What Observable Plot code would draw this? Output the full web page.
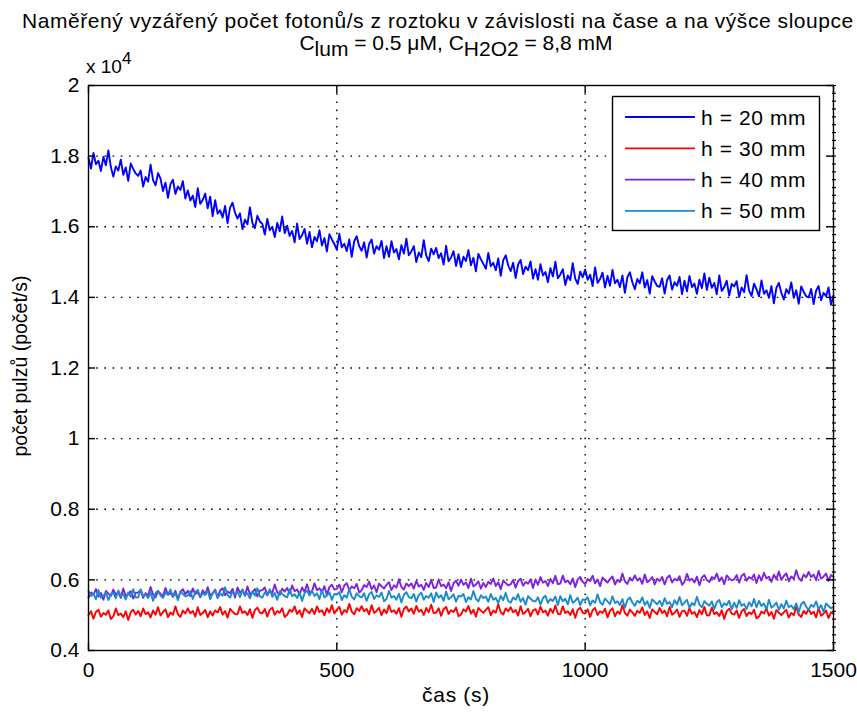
<!DOCTYPE html>
<html>
<head>
<meta charset="utf-8">
<script src="https://cdn.jsdelivr.net/npm/d3@7"></script>
<script src="https://cdn.jsdelivr.net/npm/@observablehq/plot@0.6"></script>
<style>
  body { margin: 0; background: #fff; }
  #chart svg { display: block; }
</style>
</head>
<body>
<div id="chart"></div>
<script>
// Photon count rate vs. time for four liquid column heights
const dt = 5; // sampling interval of the stored series, s
const seriesLabels = ["h = 20 mm", "h = 30 mm", "h = 40 mm", "h = 50 mm"];
const seriesColors = ["#0000ff", "#ff0000", "#8020e0", "#1a8bd0"];
const xTicks = [0, 500, 1000, 1500];
const yTicks = [4000, 6000, 8000, 10000, 12000, 14000, 16000, 18000, 20000];

// counts per second, one value every dt seconds from t = 0 to 1500 s
const h20 = [
  17950,17650,18090,17770,17870,17580,17980,17740,18160,17690,
  17420,17710,17590,17900,17470,17680,17300,17790,17640,17510,
  17440,17590,17140,17410,17280,17760,17320,17170,17520,17360,
  17010,17250,16820,17200,17330,16930,17140,17040,17290,16800,
  17030,16740,16880,16560,17090,16650,16760,16940,16520,16850,
  16300,16750,16370,16470,16260,16590,16100,16540,16680,16400,
  16230,16380,15930,16200,16070,16550,16110,15960,16310,16150,
  16080,15780,16220,15900,16000,15710,16110,15870,16290,15820,
  16030,15740,15880,15560,16090,15650,15760,15940,15520,15850,
  15420,15710,15590,15900,15470,15680,15300,15790,15640,15510,
  15350,15800,15420,15520,15310,15640,15150,15590,15730,15450,
  15320,15560,15130,15510,15640,15240,15450,15350,15600,15110,
  15450,15150,15590,15270,15370,15080,15480,15240,15660,15190,
  15300,15450,15000,15270,15140,15620,15180,15030,15380,15220,
  15400,15110,15250,14930,15460,15020,15130,15310,14890,15220,
  14860,15150,15030,15340,14910,15120,14740,15230,15080,14950,
  14810,15260,14880,14980,14770,15100,14610,15050,15190,14910,
  14740,14980,14550,14930,15060,14660,14870,14770,15020,14530,
  14800,14500,14940,14620,14720,14430,14830,14590,15010,14540,
  14650,14800,14350,14620,14490,14970,14530,14380,14730,14570,
  14790,14500,14640,14320,14850,14410,14520,14700,14280,14610,
  14330,14780,14400,14500,14290,14620,14130,14570,14710,14430,
  14230,14520,14400,14710,14280,14490,14110,14600,14450,14320,
  14300,14540,14110,14490,14620,14220,14430,14330,14580,14090,
  14470,14170,14610,14290,14390,14100,14500,14260,14680,14210,
  14560,14270,14410,14090,14620,14180,14290,14470,14050,14380,
  14310,14460,14010,14280,14150,14630,14190,14040,14390,14230,
  14030,14480,14100,14200,13990,14320,13830,14270,14410,14130,
  13940,14230,14110,14420,13990,14200,13820,14310,14160,14030,
  14000,14240,13810,14190,14320,13920,14130,14030,14280,13790,
  14050
];
const h30 = [
  4995,5115,4900,5090,5155,4955,5060,5010,5135,4890,
  4965,5190,5000,5050,4945,5110,4865,5085,5155,5015,
  5120,4970,5190,5030,5080,4935,5135,5015,5225,4990,
  5090,5165,4940,5075,5010,5250,5030,4955,5130,5050,
  5195,5050,5120,4960,5225,5005,5060,5150,4940,5105,
  4990,5135,5075,5230,5015,5120,4930,5175,5100,5035,
  5025,5250,5060,5110,5005,5170,4925,5145,5215,5075,
  5055,5175,4960,5150,5215,5015,5120,5070,5195,4950,
  5010,5155,5095,5250,5035,5140,4950,5195,5120,5055,
  5180,5030,5250,5090,5140,4995,5195,5075,5285,5050,
  5160,5235,5010,5145,5080,5320,5100,5025,5200,5120,
  5255,5110,5180,5020,5285,5065,5120,5210,5000,5165,
  5055,5280,5090,5140,5035,5200,4955,5175,5245,5105,
  5190,5040,5260,5100,5150,5005,5205,5085,5295,5060,
  5075,5195,4980,5170,5235,5035,5140,5090,5215,4970,
  5020,5165,5105,5260,5045,5150,4960,5205,5130,5065,
  5150,5225,5000,5135,5070,5310,5090,5015,5190,5110,
  5225,5080,5150,4990,5255,5035,5090,5180,4970,5135,
  5170,5020,5240,5080,5130,4985,5185,5065,5275,5040,
  5025,5250,5060,5110,5005,5170,4925,5145,5215,5075,
  5045,5165,4950,5140,5205,5005,5110,5060,5185,4940,
  5120,5195,4970,5105,5040,5280,5060,4985,5160,5080,
  4980,5125,5065,5220,5005,5110,4920,5165,5090,5025,
  5205,5060,5130,4970,5235,5015,5070,5160,4950,5115,
  5130,4980,5200,5040,5090,4945,5145,5025,5235,5000,
  4995,5220,5030,5080,4975,5140,4895,5115,5185,5045,
  5015,5135,4920,5110,5175,4975,5080,5030,5155,4910,
  4960,5105,5045,5200,4985,5090,4900,5145,5070,5005,
  5080,5155,4930,5065,5000,5240,5020,4945,5120,5040,
  5175,5030,5100,4940,5205,4985,5040,5130,4920,5085,
  5040
];
const h40 = [
  5500,5645,5585,5740,5525,5630,5440,5685,5610,5545,
  5725,5580,5650,5490,5755,5535,5590,5680,5470,5635,
  5640,5715,5490,5625,5560,5800,5580,5505,5680,5600,
  5545,5770,5580,5630,5525,5690,5445,5665,5735,5595,
  5690,5540,5760,5600,5650,5505,5705,5585,5795,5560,
  5605,5725,5510,5700,5765,5565,5670,5620,5745,5500,
  5785,5640,5710,5550,5815,5595,5650,5740,5530,5695,
  5710,5785,5560,5695,5630,5870,5650,5575,5750,5670,
  5770,5620,5840,5680,5730,5585,5785,5665,5875,5640,
  5675,5900,5710,5760,5655,5820,5575,5795,5865,5725,
  5745,5865,5650,5840,5905,5705,5810,5760,5885,5640,
  5710,5855,5795,5950,5735,5840,5650,5895,5820,5755,
  5860,5935,5710,5845,5780,6020,5800,5725,5900,5820,
  5900,5750,5970,5810,5860,5715,5915,5795,6005,5770,
  5785,6010,5820,5870,5765,5930,5685,5905,5975,5835,
  6005,5860,5930,5770,6035,5815,5870,5960,5750,5915,
  5800,5945,5885,6040,5825,5930,5740,5985,5910,5845,
  5875,5995,5780,5970,6035,5835,5940,5890,6015,5770,
  6010,5860,6080,5920,5970,5825,6025,5905,6115,5880,
  5895,6120,5930,5980,5875,6040,5795,6015,6085,5945,
  5880,6025,5965,6120,5905,6010,5820,6065,5990,5925,
  6020,6095,5870,6005,5940,6180,5960,5885,6060,5980,
  6125,5980,6050,5890,6155,5935,5990,6080,5870,6035,
  5965,6085,5870,6060,6125,5925,6030,5980,6105,5860,
  5945,6170,5980,6030,5925,6090,5845,6065,6135,5995,
  5940,6085,6025,6180,5965,6070,5880,6125,6050,5985,
  6015,6135,5920,6110,6175,5975,6080,6030,6155,5910,
  6130,5980,6200,6040,6090,5945,6145,6025,6235,6000,
  6110,6185,5960,6095,6030,6270,6050,5975,6150,6070,
  6225,6080,6150,5990,6255,6035,6090,6180,5970,6135,
  6090
];
const h50 = [
  5685,5540,5610,5450,5715,5495,5550,5640,5430,5595,
  5630,5480,5700,5540,5590,5445,5645,5525,5735,5500,
  5505,5730,5540,5590,5485,5650,5405,5625,5695,5555,
  5490,5635,5575,5730,5515,5620,5430,5675,5600,5535,
  5555,5675,5460,5650,5715,5515,5620,5570,5695,5450,
  5630,5705,5480,5615,5550,5790,5570,5495,5670,5590,
  5660,5510,5730,5570,5620,5475,5675,5555,5765,5530,
  5495,5640,5580,5735,5520,5625,5435,5680,5605,5540,
  5505,5730,5540,5590,5485,5650,5405,5625,5695,5555,
  5690,5545,5615,5455,5720,5500,5555,5645,5435,5600,
  5580,5655,5430,5565,5500,5740,5520,5445,5620,5540,
  5500,5620,5405,5595,5660,5460,5565,5515,5640,5395,
  5460,5685,5495,5545,5440,5605,5360,5580,5650,5510,
  5480,5600,5385,5575,5640,5440,5545,5495,5620,5375,
  5640,5495,5565,5405,5670,5450,5505,5595,5385,5550,
  5525,5600,5375,5510,5445,5685,5465,5390,5565,5485,
  5530,5380,5600,5440,5490,5345,5545,5425,5635,5400,
  5355,5500,5440,5595,5380,5485,5295,5540,5465,5400,
  5390,5510,5295,5485,5550,5350,5455,5405,5530,5285,
  5540,5395,5465,5305,5570,5350,5405,5495,5285,5450,
  5430,5505,5280,5415,5350,5590,5370,5295,5470,5390,
  5310,5535,5345,5395,5290,5455,5210,5430,5500,5360,
  5265,5410,5350,5505,5290,5395,5205,5450,5375,5310,
  5410,5260,5480,5320,5370,5225,5425,5305,5515,5280,
  5360,5435,5210,5345,5280,5520,5300,5225,5400,5320,
  5270,5390,5175,5365,5430,5230,5335,5285,5410,5165,
  5355,5205,5425,5265,5315,5170,5370,5250,5460,5225,
  5405,5260,5330,5170,5435,5215,5270,5360,5150,5315,
  5190,5415,5225,5275,5170,5335,5090,5310,5380,5240,
  5150,5295,5235,5390,5175,5280,5090,5335,5260,5195,
  5240
];

const rows = [h20, h30, h40, h50].flatMap((vals, s) =>
  vals.map((n, i) => ({t: i * dt, n, series: seriesLabels[s]}))
);

const font = "'Liberation Sans', Arial, Helvetica, sans-serif";
const dotted = {stroke: "black", strokeOpacity: 1, strokeWidth: 1.4, strokeDasharray: "1.6,6.6"};
const minorY = d3.range(0, 73).map(k => 4000 + k * 16000 / 72);

const chart = Plot.plot({
  width: 857,
  height: 713,
  marginLeft: 88,
  marginRight: 24,
  marginTop: 85,
  marginBottom: 63,
  style: {fontFamily: font, fontSize: "21px", color: "black", background: "white", overflow: "visible"},
  x: {domain: [0, 1500], label: null},
  y: {domain: [4000, 20000], label: null},
  color: {domain: seriesLabels, range: seriesColors},
  marks: [
    Plot.gridX([500, 1000], dotted),
    Plot.gridY(yTicks.slice(1, -1), dotted),
    Plot.line(rows, {x: "t", y: "n", z: "series", stroke: "series", strokeWidth: 1.9}),
    Plot.frame({stroke: "black", strokeWidth: 1.4}),
    // inward ticks on all four sides, labels on the left and bottom
    Plot.axisX(xTicks, {anchor: "bottom", tickSize: -7, tickPadding: 19, tickFormat: d => String(d), strokeWidth: 1.4, label: null}),
    Plot.axisX(xTicks, {anchor: "top", tickSize: -7, fill: "none", strokeWidth: 1.4, label: null}),
    Plot.axisY(yTicks, {anchor: "left", tickSize: -7, tickPadding: 16, tickFormat: d => String(d / 1e4), strokeWidth: 1.4, label: null}),
    Plot.axisY(yTicks, {anchor: "right", tickSize: -7, fill: "none", strokeWidth: 1.4, label: null}),
    Plot.axisY(minorY, {anchor: "right", tickSize: 4, dx: -2, fill: "none", strokeWidth: 1.2, label: null})
  ]
});

document.getElementById("chart").append(chart);

const svg = d3.select(chart);
const g = svg.append("g").attr("font-family", font).attr("fill", "black").attr("font-size", 21);

// title
g.append("text").attr("x", 22).attr("y", 28).attr("text-anchor", "start").attr("letter-spacing", 0.55)
  .text("Naměřený vyzářený počet fotonů/s z roztoku v závislosti na čase a na výšce sloupce");
const sub = g.append("text").attr("x", 456).attr("y", 50).attr("text-anchor", "middle");
sub.append("tspan").text("C");
sub.append("tspan").attr("dy", 6).text("lum");
sub.append("tspan").attr("dy", -6).text(" = 0.5 μM, C");
sub.append("tspan").attr("dy", 6).text("H2O2");
sub.append("tspan").attr("dy", -6).text(" = 8,8 mM");

// exponent of the y axis
const ex = g.append("text").attr("x", 86).attr("y", 73).attr("text-anchor", "start").attr("font-size", 19);
ex.append("tspan").text("x 10");
ex.append("tspan").attr("dy", -9).attr("font-size", 17).text("4");

// axis titles
g.append("text").attr("x", 456).attr("y", 702).attr("text-anchor", "middle").attr("letter-spacing", 0.7).text("čas (s)");
g.append("text").attr("transform", "translate(27,366) rotate(-90)").attr("text-anchor", "middle")
  .attr("font-size", 19.5).text("počet pulzů (počet/s)");

// legend
const lg = svg.append("g").attr("font-family", font).attr("font-size", 21);
lg.append("rect").attr("x", 612.5).attr("y", 96.5).attr("width", 207).attr("height", 134)
  .attr("fill", "white").attr("stroke", "black").attr("stroke-width", 1.4);
seriesLabels.forEach((label, i) => {
  const yy = 117 + i * 31.3;
  lg.append("line").attr("x1", 625).attr("x2", 695).attr("y1", yy).attr("y2", yy)
    .attr("stroke", seriesColors[i]).attr("stroke-width", 1.8);
  lg.append("text").attr("x", 701).attr("y", yy + 7.5).attr("text-anchor", "start")
    .attr("letter-spacing", 0.6).attr("fill", "black").text(label);
});
</script>
</body>
</html>
